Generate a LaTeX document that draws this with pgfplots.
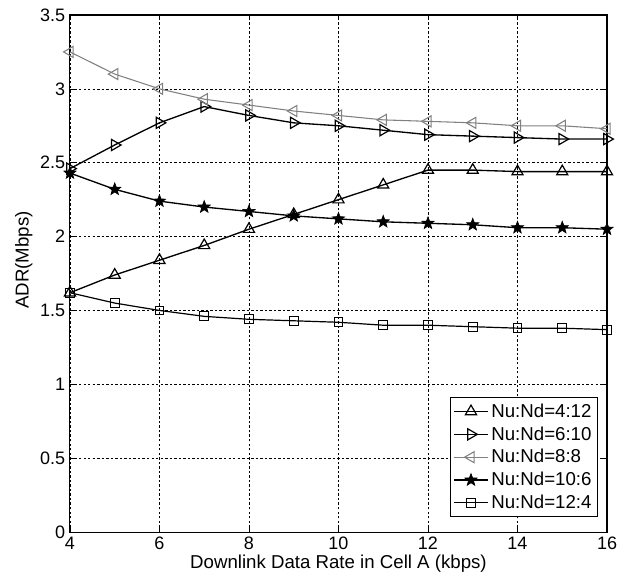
\documentclass[border=0pt]{standalone}
\usepackage{pgfplots}
\pgfplotsset{compat=1.18}
\usepackage{fontspec}
\setmainfont{Liberation Sans}
\usetikzlibrary{plotmarks}
\pgfdeclareplotmark{fstar}{%
 \pgfpathmoveto{\pgfpointpolar{90}{\pgfplotmarksize}}%
 \pgfpathlineto{\pgfpointpolar{126}{0.42*\pgfplotmarksize}}%
 \pgfpathlineto{\pgfpointpolar{162}{\pgfplotmarksize}}%
 \pgfpathlineto{\pgfpointpolar{198}{0.42*\pgfplotmarksize}}%
 \pgfpathlineto{\pgfpointpolar{234}{\pgfplotmarksize}}%
 \pgfpathlineto{\pgfpointpolar{270}{0.42*\pgfplotmarksize}}%
 \pgfpathlineto{\pgfpointpolar{306}{\pgfplotmarksize}}%
 \pgfpathlineto{\pgfpointpolar{342}{0.42*\pgfplotmarksize}}%
 \pgfpathlineto{\pgfpointpolar{18}{\pgfplotmarksize}}%
 \pgfpathlineto{\pgfpointpolar{54}{0.42*\pgfplotmarksize}}%
 \pgfpathclose\pgfusepathqfillstroke}
\begin{document}
\begin{tikzpicture}
\useasboundingbox (-52.5pt,-32pt) rectangle (411.25pt,399.25pt);
\begin{axis}[
  at={(0,0)}, anchor=south west,
  scale only axis, width=403pt, height=388pt,
  xmin=4, xmax=16, ymin=0, ymax=3.5,
  xtick={4,6,...,16}, ytick={0,0.5,...,3.5},
  yticklabels={0,0.5,1,1.5,2,2.5,3,3.5},
  /pgf/number format/assume math mode=true,
  tick label style={font=\fontsize{13.5}{15}\selectfont},
  label style={font=\fontsize{14}{16}\selectfont},
  xlabel={Downlink Data Rate in Cell A (kbps)},
  ylabel={ADR(Mbps)},
  xlabel style={yshift=3pt},
  ylabel style={at={(axis description cs:-0.086,0.526)}, anchor=center},
  grid=major,
  major grid style={black, line width=0.4pt, dash pattern=on 1.8pt off 1.6pt},
  tick align=inside, major tick length=4pt,
  tick style={black, thin},
  axis line style={black, line width=0.8pt},
  legend style={at={(rel axis cs:0.983,0.029)}, anchor=south east, draw=black, line width=0.6pt, fill=white,
    font=\fontsize{14}{16}\selectfont, row sep=1.5pt, inner sep=2.5pt},
  legend cell align=left,
  legend image code/.code={\draw[mark repeat=2,mark phase=2] plot coordinates {(0cm,0cm)(0.45cm,0cm)(0.9cm,0cm)};},
]
\addplot[black, line width=1pt, mark=triangle, mark size=4.8pt, mark options={solid, line width=0.9pt, fill=white}] coordinates {
(4,1.62)(5,1.74)(6,1.84)(7,1.94)(8,2.05)(9,2.15)(10,2.25)(11,2.35)(12,2.45)(13,2.45)(14,2.44)(15,2.44)(16,2.44)};
\addlegendentry{Nu:Nd=4:12}
\addplot[black, line width=1pt, mark=triangle, mark size=4.8pt, mark options={solid, line width=0.9pt, fill=white, rotate=-90}] coordinates {
(4,2.46)(5,2.62)(6,2.77)(7,2.88)(8,2.82)(9,2.77)(10,2.75)(11,2.72)(12,2.69)(13,2.68)(14,2.67)(15,2.66)(16,2.66)};
\addlegendentry{Nu:Nd=6:10}
\addplot[black!50, line width=0.8pt, mark=triangle, mark size=4.8pt, mark options={solid, line width=0.8pt, fill=white, rotate=90}] coordinates {
(4,3.25)(5,3.10)(6,3.00)(7,2.93)(8,2.89)(9,2.85)(10,2.82)(11,2.79)(12,2.78)(13,2.77)(14,2.75)(15,2.75)(16,2.73)};
\addlegendentry{Nu:Nd=8:8}
\addplot[black, line width=1pt, mark=fstar, mark size=4.8pt, mark options={solid, line width=0.5pt, fill=black}] coordinates {
(4,2.43)(5,2.32)(6,2.24)(7,2.20)(8,2.17)(9,2.14)(10,2.12)(11,2.10)(12,2.09)(13,2.08)(14,2.06)(15,2.06)(16,2.05)};
\addlegendentry{Nu:Nd=10:6}
\addplot[black, line width=0.9pt, mark=square, mark size=3.3pt, mark options={solid, line width=0.8pt, fill=white}] coordinates {
(4,1.62)(5,1.55)(6,1.50)(7,1.46)(8,1.44)(9,1.43)(10,1.42)(11,1.40)(12,1.40)(13,1.39)(14,1.38)(15,1.38)(16,1.37)};
\addlegendentry{Nu:Nd=12:4}
\end{axis}
\end{tikzpicture}
\end{document}
